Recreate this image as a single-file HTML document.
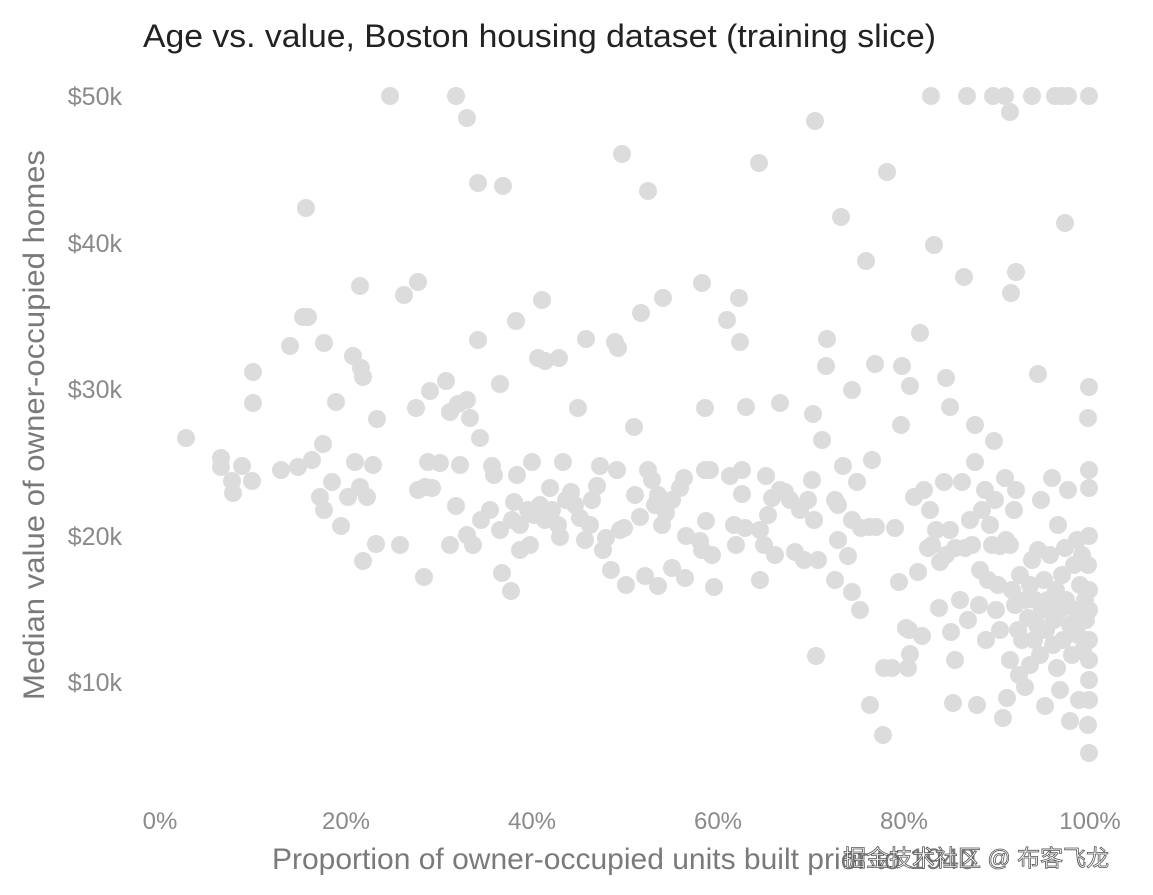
<!DOCTYPE html>
<html><head><meta charset="utf-8"><style>
html,body{margin:0;padding:0;background:#fff;}
svg{display:block;font-family:"Liberation Sans","Noto Sans CJK SC",sans-serif;}
</style></head><body>
<svg width="1153" height="895" viewBox="0 0 1153 895" xmlns="http://www.w3.org/2000/svg">
<text x="143" y="47" font-size="32" fill="#222" textLength="793" lengthAdjust="spacingAndGlyphs">Age vs. value, Boston housing dataset (training slice)</text>
<g font-size="25" fill="#8a8a8a" text-anchor="end">
<text x="122" y="105">$50k</text><text x="122" y="252">$40k</text><text x="122" y="398">$30k</text>
<text x="122" y="545">$20k</text><text x="122" y="691">$10k</text></g>
<g font-size="24" fill="#8a8a8a" text-anchor="middle">
<text x="160" y="829">0%</text><text x="346" y="829">20%</text><text x="532" y="829">40%</text>
<text x="718" y="829">60%</text><text x="904" y="829">80%</text><text x="1090" y="829">100%</text></g>
<text transform="translate(44,425) rotate(-90)" font-size="30" fill="#7a7a7a" text-anchor="middle" textLength="550" lengthAdjust="spacingAndGlyphs">Median value of owner-occupied homes</text>
<text x="272" y="869" font-size="30" fill="#7a7a7a">Proportion of owner-occupied units built prior to 1940</text>
<g fill="#dcdcdc">
<circle cx="390" cy="96" r="9"/><circle cx="456" cy="96" r="9"/><circle cx="931" cy="96" r="9"/><circle cx="967" cy="96" r="9"/><circle cx="993" cy="96" r="9"/><circle cx="1005" cy="96" r="9"/><circle cx="1032" cy="96" r="9"/><circle cx="1055" cy="96" r="9"/><circle cx="1062" cy="96" r="9"/><circle cx="1068" cy="96" r="9"/><circle cx="1089" cy="96" r="9"/>
<circle cx="467" cy="118" r="9"/><circle cx="1010" cy="112" r="9"/><circle cx="815" cy="121" r="9"/><circle cx="622" cy="154" r="9"/><circle cx="759" cy="163" r="9"/><circle cx="478" cy="183" r="9"/><circle cx="503" cy="186" r="9"/><circle cx="648" cy="191" r="9"/><circle cx="887" cy="172" r="9"/><circle cx="306" cy="208" r="9"/><circle cx="841" cy="217" r="9"/><circle cx="1065" cy="223" r="9"/><circle cx="934" cy="245" r="9"/><circle cx="866" cy="261" r="9"/><circle cx="964" cy="277" r="9"/><circle cx="1016" cy="272" r="9"/><circle cx="1011" cy="293" r="9"/>
<circle cx="360" cy="286" r="9"/><circle cx="404" cy="295" r="9"/><circle cx="418" cy="282" r="9"/><circle cx="663" cy="298" r="9"/><circle cx="702" cy="283" r="9"/><circle cx="739" cy="298" r="9"/><circle cx="542" cy="300" r="9"/><circle cx="303" cy="317" r="9"/><circle cx="308" cy="317" r="9"/><circle cx="290" cy="346" r="9"/><circle cx="324" cy="343" r="9"/><circle cx="478" cy="340" r="9"/><circle cx="516" cy="321" r="9"/><circle cx="586" cy="339" r="9"/><circle cx="615" cy="342" r="9"/><circle cx="641" cy="313" r="9"/><circle cx="618" cy="348" r="9"/><circle cx="740" cy="342" r="9"/><circle cx="727" cy="320" r="9"/><circle cx="827" cy="339" r="9"/><circle cx="920" cy="333" r="9"/>
<circle cx="852" cy="390" r="9"/><circle cx="253" cy="372" r="9"/><circle cx="353" cy="356" r="9"/><circle cx="361" cy="368" r="9"/><circle cx="363" cy="377" r="9"/><circle cx="538" cy="358" r="9"/><circle cx="559" cy="358" r="9"/><circle cx="545" cy="361" r="9"/><circle cx="500" cy="384" r="9"/><circle cx="446" cy="381" r="9"/><circle cx="430" cy="391" r="9"/><circle cx="253" cy="403" r="9"/><circle cx="336" cy="402" r="9"/><circle cx="377" cy="419" r="9"/><circle cx="416" cy="408" r="9"/><circle cx="467" cy="400" r="9"/><circle cx="470" cy="418" r="9"/><circle cx="450" cy="412" r="9"/><circle cx="458" cy="404" r="9"/><circle cx="480" cy="438" r="9"/><circle cx="875" cy="364" r="9"/><circle cx="826" cy="366" r="9"/><circle cx="902" cy="366" r="9"/><circle cx="910" cy="386" r="9"/><circle cx="946" cy="378" r="9"/><circle cx="1038" cy="374" r="9"/><circle cx="1089" cy="387" r="9"/><circle cx="1088" cy="418" r="9"/><circle cx="950" cy="407" r="9"/><circle cx="975" cy="425" r="9"/><circle cx="901" cy="425" r="9"/><circle cx="994" cy="441" r="9"/><circle cx="780" cy="403" r="9"/><circle cx="813" cy="414" r="9"/><circle cx="822" cy="440" r="9"/><circle cx="746" cy="407" r="9"/><circle cx="634" cy="427" r="9"/><circle cx="578" cy="408" r="9"/><circle cx="705" cy="408" r="9"/>
<circle cx="186" cy="438" r="9"/><circle cx="221" cy="458" r="9"/><circle cx="221" cy="467" r="9"/><circle cx="233" cy="493" r="9"/><circle cx="232" cy="481" r="9"/><circle cx="252" cy="481" r="9"/><circle cx="242" cy="466" r="9"/><circle cx="281" cy="470" r="9"/><circle cx="298" cy="467" r="9"/><circle cx="312" cy="460" r="9"/><circle cx="323" cy="444" r="9"/><circle cx="355" cy="462" r="9"/><circle cx="373" cy="465" r="9"/><circle cx="320" cy="497" r="9"/><circle cx="324" cy="510" r="9"/><circle cx="332" cy="482" r="9"/><circle cx="341" cy="526" r="9"/><circle cx="348" cy="497" r="9"/><circle cx="360" cy="487" r="9"/><circle cx="367" cy="497" r="9"/><circle cx="363" cy="561" r="9"/><circle cx="376" cy="544" r="9"/><circle cx="400" cy="545" r="9"/><circle cx="424" cy="577" r="9"/>
<circle cx="418" cy="490" r="9"/><circle cx="425" cy="487" r="9"/><circle cx="432" cy="488" r="9"/><circle cx="428" cy="462" r="9"/><circle cx="440" cy="463" r="9"/><circle cx="456" cy="506" r="9"/><circle cx="460" cy="465" r="9"/><circle cx="450" cy="545" r="9"/><circle cx="467" cy="535" r="9"/><circle cx="473" cy="545" r="9"/><circle cx="481" cy="520" r="9"/><circle cx="492" cy="466" r="9"/><circle cx="494" cy="475" r="9"/><circle cx="500" cy="530" r="9"/><circle cx="502" cy="573" r="9"/><circle cx="511" cy="591" r="9"/><circle cx="514" cy="502" r="9"/><circle cx="517" cy="475" r="9"/><circle cx="520" cy="525" r="9"/><circle cx="528" cy="510" r="9"/><circle cx="532" cy="462" r="9"/><circle cx="534" cy="515" r="9"/><circle cx="540" cy="505" r="9"/><circle cx="545" cy="520" r="9"/><circle cx="550" cy="488" r="9"/><circle cx="552" cy="510" r="9"/><circle cx="558" cy="525" r="9"/><circle cx="563" cy="462" r="9"/><circle cx="566" cy="500" r="9"/><circle cx="571" cy="492" r="9"/><circle cx="575" cy="505" r="9"/><circle cx="580" cy="518" r="9"/><circle cx="585" cy="540" r="9"/><circle cx="592" cy="500" r="9"/><circle cx="597" cy="486" r="9"/><circle cx="600" cy="466" r="9"/><circle cx="603" cy="550" r="9"/><circle cx="606" cy="538" r="9"/><circle cx="611" cy="570" r="9"/><circle cx="617" cy="470" r="9"/><circle cx="620" cy="530" r="9"/><circle cx="624" cy="528" r="9"/>
<circle cx="640" cy="517" r="9"/><circle cx="645" cy="576" r="9"/><circle cx="648" cy="470" r="9"/><circle cx="652" cy="480" r="9"/><circle cx="655" cy="505" r="9"/><circle cx="658" cy="495" r="9"/><circle cx="662" cy="525" r="9"/><circle cx="666" cy="513" r="9"/><circle cx="672" cy="500" r="9"/><circle cx="680" cy="488" r="9"/><circle cx="684" cy="478" r="9"/><circle cx="686" cy="536" r="9"/><circle cx="702" cy="550" r="9"/><circle cx="705" cy="470" r="9"/><circle cx="706" cy="521" r="9"/><circle cx="710" cy="470" r="9"/><circle cx="712" cy="555" r="9"/><circle cx="714" cy="587" r="9"/><circle cx="730" cy="476" r="9"/><circle cx="734" cy="525" r="9"/><circle cx="736" cy="545" r="9"/><circle cx="742" cy="494" r="9"/><circle cx="745" cy="528" r="9"/><circle cx="760" cy="530" r="9"/><circle cx="764" cy="545" r="9"/><circle cx="766" cy="476" r="9"/><circle cx="768" cy="515" r="9"/><circle cx="772" cy="498" r="9"/><circle cx="775" cy="555" r="9"/><circle cx="780" cy="490" r="9"/><circle cx="785" cy="492" r="9"/><circle cx="790" cy="500" r="9"/><circle cx="795" cy="552" r="9"/><circle cx="800" cy="510" r="9"/><circle cx="804" cy="560" r="9"/><circle cx="808" cy="500" r="9"/><circle cx="812" cy="480" r="9"/><circle cx="814" cy="520" r="9"/><circle cx="818" cy="560" r="9"/><circle cx="835" cy="500" r="9"/><circle cx="838" cy="505" r="9"/><circle cx="838" cy="540" r="9"/><circle cx="843" cy="466" r="9"/><circle cx="848" cy="556" r="9"/><circle cx="852" cy="520" r="9"/><circle cx="852" cy="592" r="9"/><circle cx="857" cy="482" r="9"/><circle cx="861" cy="528" r="9"/><circle cx="869" cy="527" r="9"/><circle cx="872" cy="460" r="9"/><circle cx="876" cy="527" r="9"/><circle cx="895" cy="528" r="9"/>
<circle cx="899" cy="582" r="9"/><circle cx="906" cy="628" r="9"/><circle cx="910" cy="654" r="9"/><circle cx="914" cy="497" r="9"/><circle cx="918" cy="572" r="9"/><circle cx="922" cy="636" r="9"/><circle cx="924" cy="490" r="9"/><circle cx="928" cy="548" r="9"/><circle cx="930" cy="510" r="9"/><circle cx="932" cy="545" r="9"/><circle cx="936" cy="530" r="9"/><circle cx="939" cy="608" r="9"/><circle cx="940" cy="562" r="9"/><circle cx="944" cy="482" r="9"/><circle cx="946" cy="555" r="9"/><circle cx="950" cy="530" r="9"/><circle cx="951" cy="632" r="9"/><circle cx="953" cy="703" r="9"/><circle cx="955" cy="548" r="9"/><circle cx="960" cy="600" r="9"/><circle cx="962" cy="482" r="9"/><circle cx="965" cy="548" r="9"/><circle cx="968" cy="620" r="9"/><circle cx="970" cy="520" r="9"/><circle cx="972" cy="545" r="9"/><circle cx="975" cy="462" r="9"/><circle cx="977" cy="705" r="9"/><circle cx="979" cy="605" r="9"/><circle cx="980" cy="570" r="9"/><circle cx="982" cy="510" r="9"/><circle cx="985" cy="490" r="9"/><circle cx="986" cy="640" r="9"/><circle cx="988" cy="580" r="9"/><circle cx="990" cy="525" r="9"/><circle cx="992" cy="545" r="9"/><circle cx="995" cy="500" r="9"/><circle cx="996" cy="610" r="9"/><circle cx="998" cy="585" r="9"/><circle cx="1000" cy="546" r="9"/><circle cx="1003" cy="718" r="9"/><circle cx="1005" cy="478" r="9"/><circle cx="1006" cy="540" r="9"/><circle cx="1007" cy="698" r="9"/><circle cx="1010" cy="545" r="9"/><circle cx="1012" cy="590" r="9"/><circle cx="1014" cy="510" r="9"/><circle cx="1015" cy="605" r="9"/><circle cx="1016" cy="490" r="9"/><circle cx="1018" cy="630" r="9"/><circle cx="1019" cy="675" r="9"/><circle cx="1020" cy="575" r="9"/><circle cx="1022" cy="640" r="9"/><circle cx="1025" cy="687" r="9"/><circle cx="1025" cy="600" r="9"/><circle cx="1028" cy="618" r="9"/><circle cx="1030" cy="585" r="9"/><circle cx="1032" cy="560" r="9"/><circle cx="1034" cy="640" r="9"/><circle cx="1035" cy="600" r="9"/><circle cx="1037" cy="625" r="9"/><circle cx="1038" cy="550" r="9"/><circle cx="1040" cy="655" r="9"/><circle cx="1041" cy="500" r="9"/><circle cx="1042" cy="610" r="9"/><circle cx="1044" cy="580" r="9"/><circle cx="1045" cy="706" r="9"/><circle cx="1046" cy="630" r="9"/><circle cx="1048" cy="600" r="9"/><circle cx="1050" cy="555" r="9"/><circle cx="1052" cy="478" r="9"/><circle cx="1053" cy="645" r="9"/><circle cx="1054" cy="620" r="9"/><circle cx="1056" cy="590" r="9"/><circle cx="1057" cy="668" r="9"/><circle cx="1058" cy="525" r="9"/><circle cx="1060" cy="610" r="9"/><circle cx="1062" cy="575" r="9"/><circle cx="1063" cy="640" r="9"/><circle cx="1065" cy="548" r="9"/><circle cx="1066" cy="600" r="9"/><circle cx="1068" cy="490" r="9"/><circle cx="1070" cy="721" r="9"/><circle cx="1070" cy="625" r="9"/><circle cx="1072" cy="655" r="9"/><circle cx="1074" cy="565" r="9"/><circle cx="1075" cy="610" r="9"/><circle cx="1077" cy="540" r="9"/><circle cx="1078" cy="635" r="9"/><circle cx="1079" cy="700" r="9"/><circle cx="1080" cy="585" r="9"/><circle cx="1082" cy="555" r="9"/><circle cx="1083" cy="650" r="9"/><circle cx="1085" cy="600" r="9"/><circle cx="1086" cy="620" r="9"/><circle cx="1088" cy="725" r="9"/><circle cx="1088" cy="565" r="9"/><circle cx="1089" cy="753" r="9"/><circle cx="1089" cy="680" r="9"/><circle cx="1089" cy="640" r="9"/><circle cx="1089" cy="590" r="9"/><circle cx="1089" cy="536" r="9"/><circle cx="1089" cy="488" r="9"/><circle cx="1089" cy="470" r="9"/><circle cx="1089" cy="660" r="9"/><circle cx="1089" cy="610" r="9"/><circle cx="1089" cy="700" r="9"/>
<circle cx="816" cy="656" r="9"/><circle cx="870" cy="705" r="9"/><circle cx="883" cy="735" r="9"/><circle cx="884" cy="668" r="9"/><circle cx="892" cy="668" r="9"/><circle cx="908" cy="668" r="9"/><circle cx="909" cy="630" r="9"/><circle cx="742" cy="470" r="9"/><circle cx="658" cy="586" r="9"/><circle cx="635" cy="495" r="9"/><circle cx="700" cy="541" r="9"/><circle cx="672" cy="568" r="9"/><circle cx="560" cy="537" r="9"/><circle cx="530" cy="545" r="9"/><circle cx="490" cy="510" r="9"/><circle cx="512" cy="520" r="9"/><circle cx="520" cy="550" r="9"/><circle cx="590" cy="525" r="9"/><circle cx="626" cy="585" r="9"/><circle cx="685" cy="578" r="9"/><circle cx="760" cy="580" r="9"/><circle cx="835" cy="580" r="9"/><circle cx="860" cy="610" r="9"/><circle cx="955" cy="660" r="9"/><circle cx="1010" cy="660" r="9"/><circle cx="1030" cy="665" r="9"/><circle cx="1000" cy="630" r="9"/><circle cx="1060" cy="690" r="9"/>
</g>
<text x="843" y="866" font-size="23" fill="#fff" stroke="#555" stroke-width="0.8">掘金技术社区 @ 布客飞龙</text>
</svg>
</body></html>
